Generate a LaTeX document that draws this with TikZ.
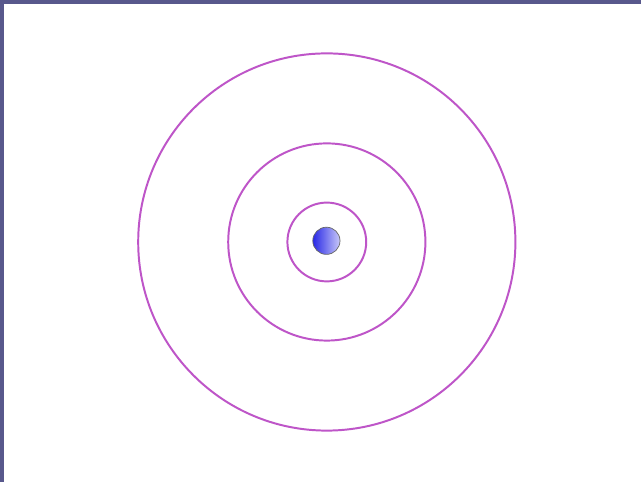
\documentclass[tikz,border=0pt]{standalone}
\usepackage{tikz}
\definecolor{frameblue}{RGB}{88,88,140}
\definecolor{orbitpink}{RGB}{190,85,200}
\definecolor{nucleusblue}{RGB}{40,40,230}
\usetikzlibrary{positioning}

\begin{document}
\begin{tikzpicture}[
  orbit/.style={draw=orbitpink, line width=1.4pt, circle, inner sep=0pt},
  nucleus/.style={draw=black!60, line width=0.5pt, circle, inner sep=0pt, minimum size=0.68cm, left color=nucleusblue, right color=nucleusblue!25}]
  % slide background and frame
  \fill[frameblue] (0,0) rectangle (16.025,12.05);
  \fill[white] (0.11,0) rectangle (16.025,11.96);
  \useasboundingbox (0,0) rectangle (16.025,12.05);
  % orbits round the nucleus
  \node[orbit, minimum size=9.43cm] (outer) at (8.17,6.0) {};
  \node[orbit, minimum size=4.93cm] (middle) at (outer.center) {};
  \node[orbit, minimum size=1.97cm] (inner) at (outer.center) {};
  % nucleus
  \node[nucleus] (core) at (8.16,6.03) {};
\end{tikzpicture}
\end{document}
